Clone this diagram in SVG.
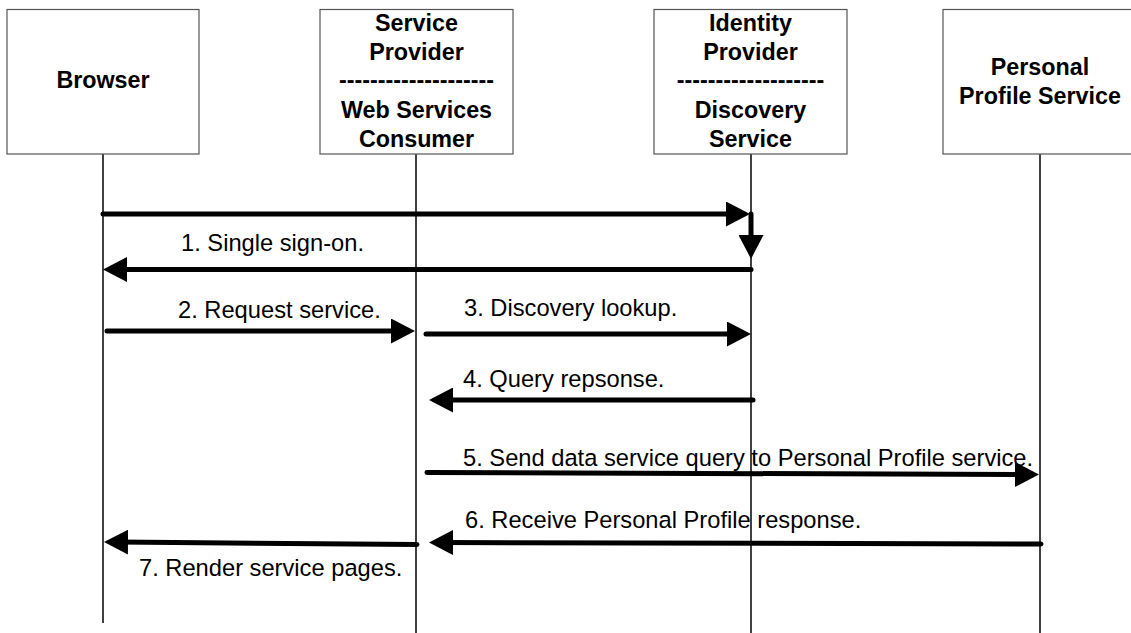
<svg xmlns="http://www.w3.org/2000/svg" width="1131" height="633" viewBox="0 0 1131 633">
<style>
.box{fill:#fff;stroke:#555;stroke-width:1.2}
.t{font-family:"Liberation Sans",Arial,sans-serif;font-weight:bold;font-size:23.3px;text-anchor:middle;fill:#000}
.lab{font-family:"Liberation Sans",Arial,sans-serif;font-size:23.7px;fill:#000}
.life{stroke:#000;stroke-width:1.5;fill:none}
.msg{stroke:#000;stroke-width:5;fill:none;stroke-linecap:round;marker-end:url(#ah)}
</style>
<defs>
<marker id="ah" markerUnits="userSpaceOnUse" viewBox="0 0 24 25" markerWidth="24" markerHeight="25" refX="10" refY="12.5" orient="auto">
<path d="M0,0 L24,12.5 L0,25 Z" fill="#000"/>
</marker>
</defs>
<rect width="1131" height="633" fill="#fff"/>
<g id="lifelines">
<line class="life" x1="103" y1="154" x2="103" y2="623"/>
<line class="life" x1="416" y1="154" x2="416" y2="633"/>
<line class="life" x1="751" y1="154" x2="751" y2="633"/>
<line class="life" x1="1040" y1="154" x2="1040" y2="633"/>
</g>
<g id="browser">
<rect class="box" x="7" y="9.5" width="192" height="144.5"/>
<text class="t" x="103" y="88">Browser</text>
</g>
<g id="sp">
<rect class="box" x="320" y="9.5" width="193" height="144.5"/>
<text class="t" x="416.5" y="31">Service</text>
<text class="t" x="416.5" y="60">Provider</text>
<text class="t" x="416.5" y="88">--------------------</text>
<text class="t" x="416.5" y="118">Web Services</text>
<text class="t" x="416.5" y="147">Consumer</text>
</g>
<g id="idp">
<rect class="box" x="654" y="9.5" width="193" height="144.5"/>
<text class="t" x="750.5" y="31">Identity</text>
<text class="t" x="750.5" y="60">Provider</text>
<text class="t" x="750.5" y="88">-------------------</text>
<text class="t" x="750.5" y="118">Discovery</text>
<text class="t" x="750.5" y="147">Service</text>
</g>
<g id="pps">
<rect class="box" x="943" y="9.5" width="194" height="144.5"/>
<text class="t" x="1040" y="75">Personal</text>
<text class="t" x="1040" y="104">Profile Service</text>
</g>
<g id="connectors">
<line class="msg" x1="103" y1="214" x2="736" y2="214"/>
<line class="msg" x1="751" y1="214" x2="751" y2="245"/>
<line class="msg" x1="751" y1="269.5" x2="117" y2="269.5"/>
<line class="msg" x1="107" y1="331" x2="401" y2="331"/>
<line class="msg" x1="426" y1="334" x2="737" y2="334"/>
<line class="msg" x1="753" y1="400" x2="443" y2="400"/>
<line class="msg" x1="427" y1="472.5" x2="1025" y2="474.5"/>
<line class="msg" x1="1041" y1="544" x2="443" y2="542.5"/>
<line class="msg" x1="417" y1="544.5" x2="118" y2="542"/>
</g>
<g id="labels">
<text class="lab" x="181" y="251">1. Single sign-on.</text>
<text class="lab" x="178" y="318">2. Request service.</text>
<text class="lab" x="464" y="316">3. Discovery lookup.</text>
<text class="lab" x="463" y="387">4. Query repsonse.</text>
<text class="lab" x="463" y="466">5. Send data service query to Personal Profile service.</text>
<text class="lab" x="465" y="528">6. Receive Personal Profile response.</text>
<text class="lab" x="139" y="576">7. Render service pages.</text>
</g>
</svg>
